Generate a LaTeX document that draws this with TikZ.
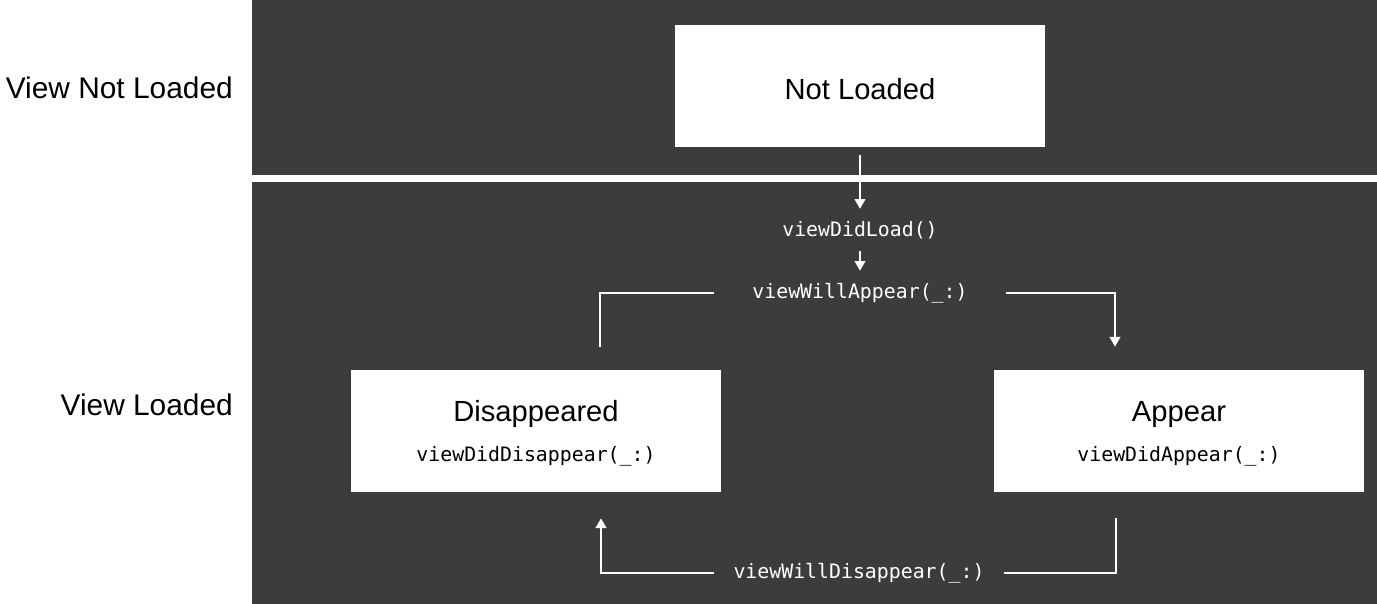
\documentclass[tikz,border=0pt]{standalone}
\usepackage{fontspec}
\setmainfont{Liberation Sans}
\setmonofont{DejaVu Sans Mono}
\usetikzlibrary{arrows.meta,positioning}
\definecolor{panel}{RGB}{60,61,59}
\begin{document}
\begin{tikzpicture}[x=0.02cm,y=-0.02cm,
    statebox/.style={fill=white, minimum width=7.4cm, minimum height=2.44cm, inner sep=0pt},
    statetitle/.style={text=black, font=\fontsize{16.6}{20}\selectfont},
    callname/.style={text=white, inner ysep=0.24cm, font=\fontsize{11.3}{13}\ttfamily},
    flow/.style={white, line width=1.1pt},
    flowarrow/.style={flow, -{Triangle[width=6pt,length=5.5pt]}},
    sidelabel/.style={anchor=east, font=\fontsize{17}{20}\selectfont}]
    \useasboundingbox (0,0) rectangle (1377,604);

    % Draw panels
    \fill[panel] (252,0) rectangle (1377,175);
    \fill[panel] (252,182) rectangle (1377,604);

    % Add side labels
    \node[sidelabel] (notloadedlabel) at (239,88) {View Not Loaded};
    \node[sidelabel] (loadedlabel) at (239,405) {View Loaded};

    % Draw states
    \node[statebox] (notloaded) at (860,86) {};
    \node[statebox] (disappeared) at (536,431) {};
    \node[statebox] (appear) at (1179,431) {};
    \node[statetitle] (notloadedtitle) at (860,89) {Not Loaded};
    \node[statetitle] (disappearedtitle) at (536,414) {Disappeared};
    \node[callname, text=black] (diddisappear) at (536,456) {viewDidDisappear(\_:)};
    \node[statetitle] (appeartitle) at (1179,414) {Appear};
    \node[callname, text=black] (didappear) at (1179,456) {viewDidAppear(\_:)};

    % Add method calls
    \node[callname] (didload) at (860,230) {viewDidLoad()};
    \node[callname, inner xsep=0.76cm] (willappear) at (860,293) {viewWillAppear(\_:)};
    \node[callname, inner xsep=0.38cm] (willdisappear) at (859,573) {viewWillDisappear(\_:)};

    % Connector ends
    \coordinate (disappearout) at ([shift={(64,-23)}]disappeared.north);
    \coordinate (appearin) at ([shift={(-64,-23)}]appear.north);
    \coordinate (appearout) at ([shift={(-63,26)}]appear.south);
    \coordinate (disappearin) at ([shift={(65,26)}]disappeared.south);

    % Draw connectors
    \draw[flowarrow, shorten <=0.16cm] (notloaded.south) -- (didload.north);
    \draw[flowarrow] (didload.south) -- (willappear.north);
    \draw[flow] (willappear.west) -| (disappearout);
    \draw[flowarrow] (willappear.east) -| (appearin);
    \draw[flow] (appearout) |- (willdisappear.east);
    \draw[flowarrow] (willdisappear.west) -| (disappearin);
\end{tikzpicture}
\end{document}
